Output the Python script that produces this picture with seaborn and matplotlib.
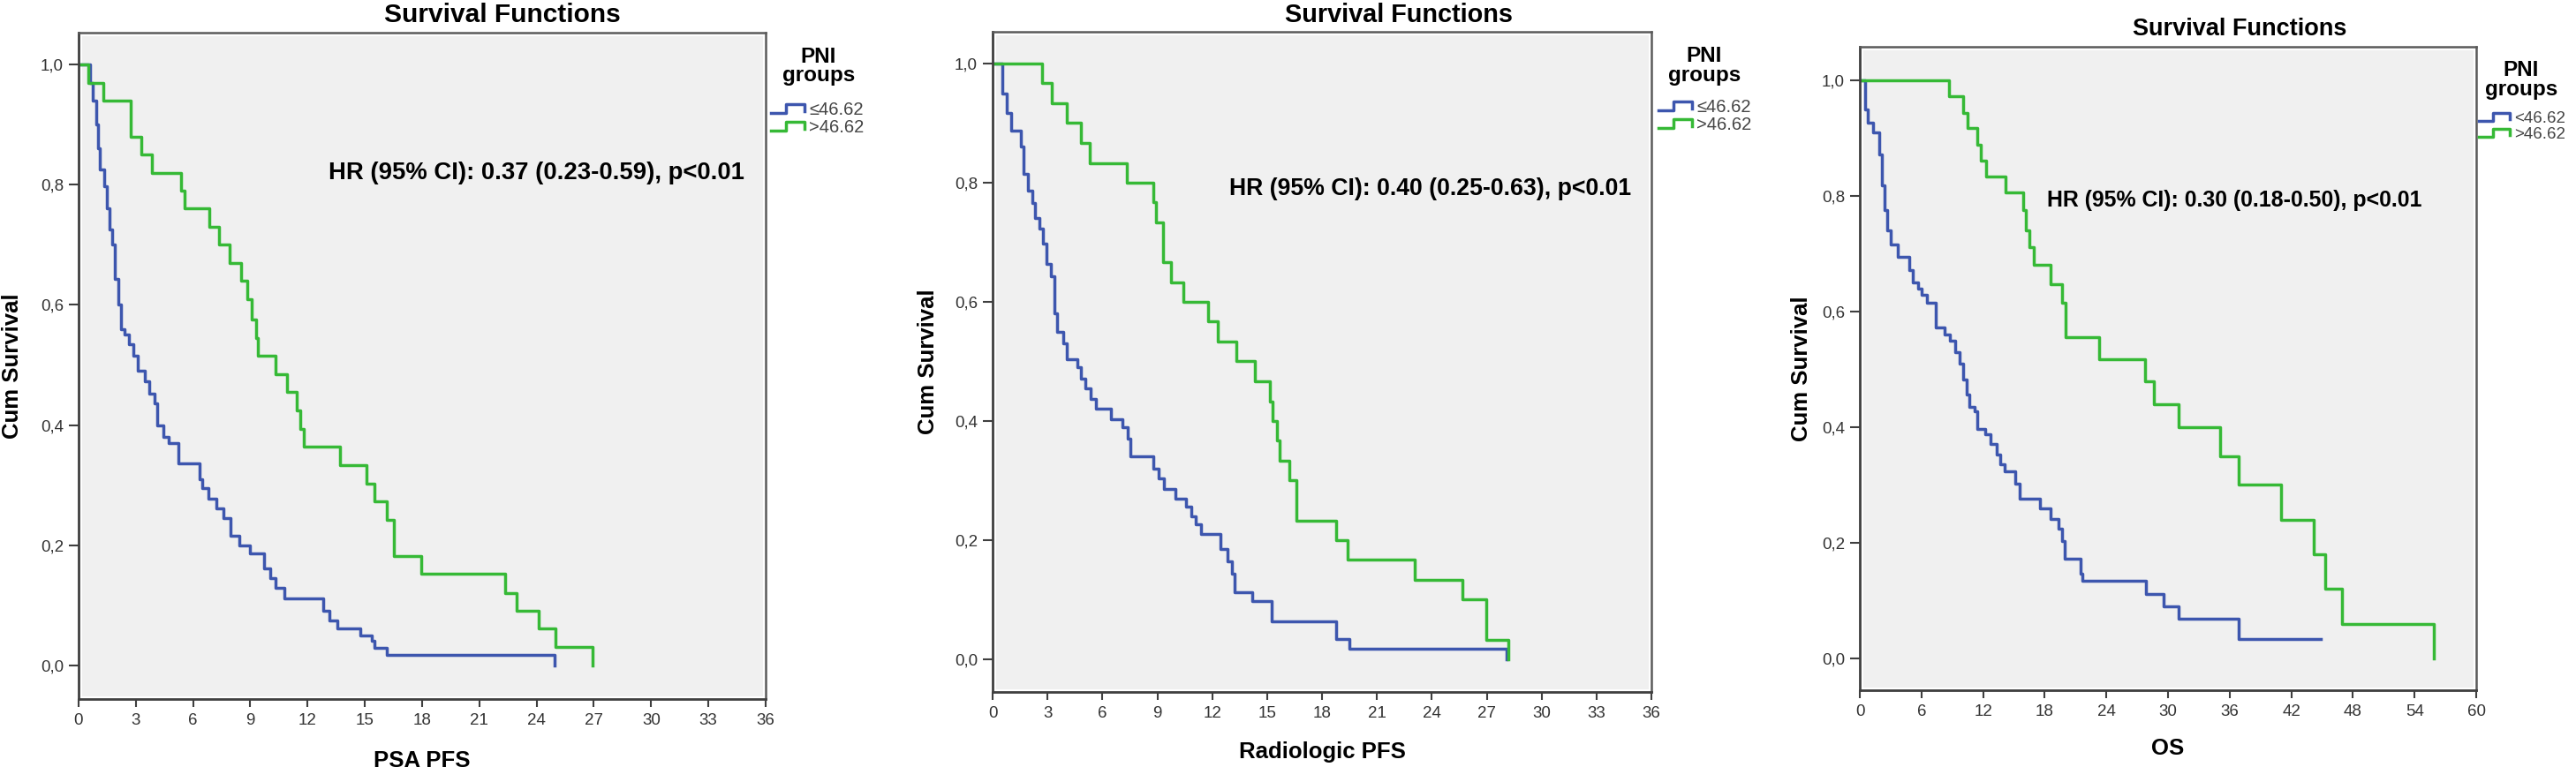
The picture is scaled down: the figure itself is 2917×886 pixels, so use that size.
import numpy as np
import pandas as pd
import seaborn as sns
import matplotlib.pyplot as plt
from matplotlib.legend_handler import HandlerBase
from matplotlib.lines import Line2D


# ---- data (time, cum survival after each drop)
groups = ['≤46.62', '>46.62']

psa_low_t = [0, 0.59, 0.74, 0.94, 1.02, 1.12, 1.33, 1.47, 1.62, 1.77, 1.92, 2.06, 2.21,
             2.42, 2.65, 2.89, 3.10, 3.48, 3.69, 3.98, 4.13, 4.42, 4.72, 5.25, 6.34,
             6.49, 6.78, 7.23, 7.61, 7.96, 8.41, 9.00, 9.73, 10.03, 10.32, 10.77,
             12.83, 13.13, 13.57, 14.75, 15.34, 15.49, 16.17, 24.96]
psa_low_s = [1.0, 0.97, 0.94, 0.90, 0.86, 0.826, 0.797, 0.76, 0.726, 0.70, 0.643, 0.60,
             0.56, 0.55, 0.535, 0.515, 0.49, 0.473, 0.452, 0.436, 0.40, 0.38, 0.37, 0.336,
             0.31, 0.295, 0.278, 0.261, 0.245, 0.216, 0.199, 0.187, 0.162, 0.145, 0.129,
             0.112, 0.091, 0.075, 0.062, 0.05, 0.041, 0.029, 0.017, 0.0]
psa_high_t = [0, 0.50, 1.29, 2.74, 3.29, 3.83, 5.37, 5.55, 6.87, 7.37, 7.90, 8.50,
              8.85, 9.06, 9.29, 9.38, 10.32, 10.91, 11.42, 11.60, 11.80, 13.72, 15.10,
              15.50, 16.17, 16.52, 17.94, 22.36, 22.95, 24.13, 25.01, 26.93]
psa_high_s = [1.0, 0.97, 0.94, 0.88, 0.85, 0.82, 0.79, 0.76, 0.73, 0.70, 0.67, 0.64,
              0.61, 0.576, 0.545, 0.515, 0.485, 0.455, 0.424, 0.394, 0.364, 0.333, 0.303,
              0.273, 0.242, 0.182, 0.152, 0.121, 0.091, 0.061, 0.030, 0.0]

rad_low_t = [0, 0.55, 0.77, 1.02, 1.54, 1.69, 1.94, 2.15, 2.31, 2.55, 2.77, 2.92, 3.17,
             3.38, 3.54, 3.85, 4.06, 4.62, 4.83, 5.08, 5.38, 5.63, 6.46, 7.08, 7.38, 7.54,
             8.77, 9.08, 9.38, 10.00, 10.55, 10.86, 11.08, 11.38, 12.46, 12.83, 13.08,
             13.23, 14.20, 15.23, 18.77, 19.48, 28.10]
rad_low_s = [1.0, 0.95, 0.916, 0.887, 0.86, 0.815, 0.786, 0.765, 0.74, 0.723, 0.697, 0.664,
             0.643, 0.58, 0.55, 0.53, 0.504, 0.49, 0.471, 0.454, 0.437, 0.42, 0.403, 0.39,
             0.37, 0.34, 0.32, 0.303, 0.286, 0.27, 0.256, 0.24, 0.227, 0.21, 0.185, 0.164,
             0.143, 0.113, 0.097, 0.063, 0.034, 0.017, 0.0]
rad_high_t = [0, 2.71, 3.23, 4.06, 4.83, 5.32, 7.32, 8.77, 8.92, 9.32, 9.75, 10.40, 11.78,
              12.31, 13.32, 14.31, 15.14, 15.29, 15.54, 15.69, 16.22, 16.62, 18.77, 19.38,
              23.08, 25.69, 26.98, 28.20]
rad_high_s = [1.0, 0.967, 0.933, 0.90, 0.867, 0.833, 0.80, 0.767, 0.733, 0.667, 0.633, 0.60,
              0.567, 0.533, 0.50, 0.467, 0.433, 0.40, 0.367, 0.333, 0.30, 0.233, 0.20, 0.167,
              0.133, 0.10, 0.033, 0.0]

os_low_t = [0, 0.53, 0.80, 1.33, 1.86, 2.12, 2.39, 2.66, 3.03, 3.72, 4.78, 5.15, 5.68,
            6.00, 6.53, 7.43, 8.23, 8.76, 9.29, 9.72, 10.09, 10.36, 10.62, 11.15, 11.42,
            12.21, 12.75, 13.28, 13.65, 14.07, 15.14, 15.56, 17.53, 18.59, 19.38, 19.65,
            19.92, 21.51, 21.67, 27.88, 29.58, 31.07, 36.90, 44.90]
os_low_s = [1.0, 0.95, 0.927, 0.91, 0.871, 0.819, 0.776, 0.741, 0.716, 0.694, 0.672, 0.65,
            0.64, 0.629, 0.616, 0.573, 0.56, 0.55, 0.53, 0.51, 0.483, 0.457, 0.435, 0.427,
            0.397, 0.388, 0.371, 0.353, 0.336, 0.323, 0.302, 0.276, 0.259, 0.241, 0.224,
            0.203, 0.172, 0.147, 0.134, 0.112, 0.09, 0.069, 0.034, 0.034]
os_high_t = [0, 8.66, 10.09, 10.46, 11.42, 11.79, 12.32, 14.18, 15.93, 16.20, 16.46, 16.89,
             18.59, 19.65, 20.07, 23.26, 27.77, 28.62, 31.07, 35.05, 36.90, 41.00, 44.20,
             45.30, 46.90, 55.90]
os_high_s = [1.0, 0.972, 0.944, 0.917, 0.889, 0.861, 0.833, 0.806, 0.775, 0.741, 0.711,
             0.681, 0.647, 0.615, 0.555, 0.517, 0.48, 0.44, 0.40, 0.35, 0.30, 0.24, 0.18,
             0.12, 0.06, 0.0]

xlabels = ['PSA PFS', 'Radiologic PFS', 'OS']
hr_texts = ['HR (95% CI): 0.37 (0.23-0.59), p<0.01',
            'HR (95% CI): 0.40 (0.25-0.63), p<0.01',
            'HR (95% CI): 0.30 (0.18-0.50), p<0.01']
legend_labels = [['≤46.62', '>46.62'], ['≤46.62', '>46.62'], ['<46.62', '>46.62']]
ytick_vals = [0.0, 0.2, 0.4, 0.6, 0.8, 1.0]
ytick_labels = ['0,0', '0,2', '0,4', '0,6', '0,8', '1,0']


def km_frame(low_t, low_s, high_t, high_s):
    low = pd.DataFrame({'time': low_t, 'surv': low_s, 'group': groups[0]})
    high = pd.DataFrame({'time': high_t, 'surv': high_s, 'group': groups[1]})
    return pd.concat([low, high], ignore_index=True)


frames = [km_frame(psa_low_t, psa_low_s, psa_high_t, psa_high_s),
          km_frame(rad_low_t, rad_low_s, rad_high_t, rad_high_s),
          km_frame(os_low_t, os_low_s, os_high_t, os_high_s)]

blue, green = '#3d56ae', '#36b936'
palette = {groups[0]: blue, groups[1]: green}
LW = 2.5


class StepHandler(HandlerBase):
    # SPSS style little step icon in the legend
    def create_artists(self, legend, orig_handle, xdescent, ydescent,
                       width, height, fontsize, trans):
        xs = np.array([0, 0.45, 0.45, 1, 1]) * width - xdescent
        ys = np.array([0.15, 0.15, 0.85, 0.85, 0.3]) * height - ydescent
        line = Line2D(xs, ys, color=orig_handle.get_color(),
                      lw=orig_handle.get_linewidth())
        line.set_transform(trans)
        return [line]


plt.rcParams['font.family'] = ['Liberation Sans', 'DejaVu Sans']

fig = plt.figure(figsize=(29.17, 8.86), dpi=100)

ax_rects = [(0.03051, 0.10609, 0.26671, 0.85214),
            (0.38533, 0.11512, 0.25574, 0.84424),
            (0.72198, 0.11738, 0.23929, 0.82280)]
xlims = [36, 36, 60]
xsteps = [3, 3, 6]
ylims = [(-0.056, 1.053), (-0.055, 1.053), (-0.055, 1.058)]
title_sizes = [21.5, 20.8, 19.5]
title_y = [1.0159, 1.0147, 1.0178]
hr_sizes = [19.8, 19.2, 17.9]
hr_pos = [(34.9, 0.819), (34.9, 0.79), (54.7, 0.793)]
ylab_x = [-75 / 778, -73 / 746, -66 / 698]
xlab_y = [-70 / 755, -68 / 748, -66 / 729]
leg_title_pos = [(1.077, 0.950), (1.080, 0.9485), (1.073, 0.9486)]
leg_pos = [(1.0077, 0.8967), (1.0107, 0.898), (1.004, 0.90)]
leg_sizes = [14.5, 14.5, 13.5]

for i, df in enumerate(frames):
    ax = fig.add_axes(ax_rects[i])
    ax.set_facecolor('#f0f0f0')
    # thin white margin between the frame and the grey plot area
    ax.patch.set_edgecolor('white')
    ax.patch.set_linewidth(5)

    sns.lineplot(data=df, x='time', y='surv', hue='group', palette=palette,
                 estimator=None, sort=False, drawstyle='steps-post',
                 lw=LW, legend=False, ax=ax)

    ax.set_xlim(0, xlims[i])
    ax.set_ylim(*ylims[i])
    ax.set_xticks(np.arange(0, xlims[i] + 1, xsteps[i]))
    ax.set_yticks(ytick_vals)
    ax.set_yticklabels(ytick_labels)

    for side in ['left', 'bottom']:
        ax.spines[side].set_color('#3f3f3f')
        ax.spines[side].set_linewidth(2.0)
    for side in ['top', 'right']:
        ax.spines[side].set_color('#5a5a5a')
        ax.spines[side].set_linewidth(1.8)

    ax.tick_params(axis='both', direction='out', width=1.5, color='#3f3f3f',
                   labelsize=13.5, labelcolor='#333333')
    ax.tick_params(axis='y', length=7.9, pad=4.3)
    ax.tick_params(axis='x', length=6.5, pad=5)

    ax.set_title('Survival Functions', fontsize=title_sizes[i], fontweight='bold',
                 x=0.617, y=title_y[i], va='baseline', pad=0)

    ax.set_xlabel(xlabels[i], fontsize=18.5, fontweight='bold')
    ax.xaxis.label.set(va='center')
    ax.xaxis.set_label_coords(0.5, xlab_y[i])
    ax.set_ylabel('Cum Survival', fontsize=18.5, fontweight='bold')
    ax.yaxis.label.set(va='center', ha='center', rotation_mode='anchor')
    ax.yaxis.set_label_coords(ylab_x[i], 0.5)

    ax.text(hr_pos[i][0], hr_pos[i][1], hr_texts[i], fontsize=hr_sizes[i],
            fontweight='bold', ha='right', va='center')

    # legend: bold two-line title plus step icons
    ax.text(leg_title_pos[i][0], leg_title_pos[i][1], 'PNI\ngroups',
            transform=ax.transAxes, fontsize=17.5, fontweight='bold',
            ha='center', va='center', linespacing=0.9)
    handles = [Line2D([], [], color=blue, lw=LW), Line2D([], [], color=green, lw=LW)]
    ax.legend(handles, legend_labels[i], handler_map={Line2D: StepHandler()},
              loc='upper left', bbox_to_anchor=leg_pos[i], frameon=False,
              borderpad=0, borderaxespad=0, handlelength=1.9, handletextpad=0.25,
              labelspacing=0.05, fontsize=leg_sizes[i], labelcolor='#444444')

fig.savefig('out.png', dpi=100)
